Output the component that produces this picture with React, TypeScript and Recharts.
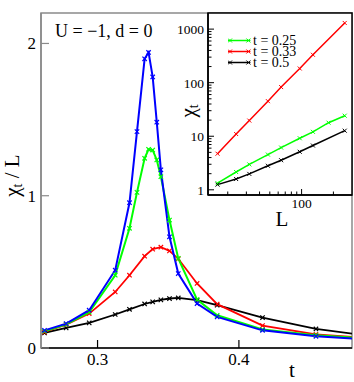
import React from "react";
import { LineChart, Line, XAxis, YAxis, ReferenceArea, Legend } from "recharts";

const FONT = "'Liberation Serif', 'Times New Roman', Times, serif";
const F = { fontFamily: FONT };

// ---- main panel data (t, chi_t / L) ----
const tDense = [0.2625, 0.2778, 0.2941, 0.3125, 0.3226, 0.3279, 0.3333, 0.3361, 0.339, 0.3419, 0.3448, 0.3509, 0.3571, 0.3704, 0.3846, 0.4167, 0.4545, 0.5];
const blueChi = [0.116, 0.16, 0.248, 0.511, 0.954, 1.421, 1.899, 1.941, 1.78, 1.483, 1.17, 0.73, 0.489, 0.292, 0.204, 0.116, 0.077, 0.052];
const greenChi = [0.11, 0.155, 0.235, 0.478, 0.786, 1.022, 1.246, 1.305, 1.3, 1.235, 1.125, 0.84, 0.588, 0.318, 0.215, 0.121, 0.084, 0.056];
const tSparse = [0.2625, 0.2778, 0.2941, 0.3125, 0.3226, 0.3333, 0.339, 0.3448, 0.3509, 0.3571, 0.3704, 0.3846, 0.4167, 0.4545, 0.5];
const redChi = [0.105, 0.154, 0.226, 0.368, 0.478, 0.603, 0.649, 0.662, 0.638, 0.586, 0.424, 0.288, 0.147, 0.09, 0.058];
const blackChi = [0.099, 0.132, 0.165, 0.22, 0.254, 0.289, 0.303, 0.316, 0.325, 0.329, 0.314, 0.281, 0.2, 0.125, 0.07];

const mainXTicks = [0.3, 0.4];
const mainYTicks = [0, 1, 2];

// ---- inset data (L, chi_t) ----
const Lsizes = [16, 24, 32, 48, 64, 96, 128, 256];
const LsizesGreen = [16, 24, 32, 48, 64, 96, 128, 180, 256];
const insetGreen = [1.33, 2.15, 2.98, 4.55, 6.15, 9.17, 12.1, 17.9, 24.2];
const insetRed = [4.72, 11.0, 19.6, 45.2, 82.8, 184, 332, 1303];
const insetBlack = [1.25, 1.59, 1.98, 2.81, 3.57, 5.13, 6.71, 12.7];
const insetNames = ["t = 0.25", "t = 0.33", "t = 0.5"];

const insetXTicks = [20, 30, 40, 50, 60, 70, 80, 90, 100, 200];
const insetXMajor = [100];
const insetYTicks = [1, 2, 3, 4, 5, 6, 7, 8, 9, 10, 20, 30, 40, 50, 60, 70, 80, 90, 100, 200, 300, 400, 500, 600, 700, 800, 900, 1000];
const insetYMajor = [1, 10, 100, 1000];

const toRows = (xs: number[], ys: number[], key: string) => xs.map((x, i) => ({ [key]: x, v: ys[i] }));

const blueRows = toRows(tDense, blueChi, "t");
const greenRows = toRows(tDense, greenChi, "t");
const redRows = toRows(tSparse, redChi, "t");
const blackRows = toRows(tSparse, blackChi, "t");

const gInset = toRows(LsizesGreen, insetGreen, "L");
const rInset = toRows(Lsizes, insetRed, "L");
const kInset = toRows(Lsizes, insetBlack, "L");

const makeCross = (s: number, w: number) => (props: any) => {
  const { cx, cy, stroke } = props;
  if (cx == null || cy == null) return <g />;
  return (
    <path
      d={`M${cx - s},${cy - s}L${cx + s},${cy + s}M${cx - s},${cy + s}L${cx + s},${cy - s}`}
      stroke={stroke}
      strokeWidth={w}
      fill="none"
    />
  );
};
const MainCross = makeCross(2.2, 1.2);
const InsetCross = makeCross(2, 1);

// main axis ticks (inward)
const MainXTick = (props: any) => {
  const { x, y, payload } = props;
  return (
    <g>
      <line x1={x} x2={x} y1={y} y2={y - 8} stroke="#000" strokeWidth={1.2} />
      <text x={x} y={y + 17} textAnchor="middle" fontSize={17} style={F} fill="#000">
        {payload.value}
      </text>
    </g>
  );
};
const MainYTick = (props: any) => {
  const { x, y, payload } = props;
  return (
    <g>
      <line x1={x} x2={x + 8} y1={y} y2={y} stroke="#8a8a8a" strokeWidth={1.2} />
      <text x={x - 5} y={y + 6} textAnchor="end" fontSize={17} style={F} fill="#000">
        {payload.value}
      </text>
    </g>
  );
};

// inset ticks
const InsetXTick = (side: "bottom" | "top") => (props: any) => {
  const { x, y, payload } = props;
  const major = insetXMajor.includes(payload.value);
  const len = major ? 6 : 3.5;
  const dir = side === "bottom" ? -1 : 1;
  return (
    <g>
      <line x1={x} x2={x} y1={y} y2={y + dir * len} stroke="#000" strokeWidth={1} />
      {side === "bottom" && major ? (
        <text x={x} y={y + 13} textAnchor="middle" fontSize={13.5} style={F} fill="#000">
          {payload.value}
        </text>
      ) : null}
    </g>
  );
};
const InsetYTick = (side: "left" | "right") => (props: any) => {
  const { x, y, payload } = props;
  const major = insetYMajor.includes(payload.value);
  const len = major ? 6 : 3.5;
  const dir = side === "left" ? 1 : -1;
  return (
    <g>
      <line x1={x} x2={x + dir * len} y1={y} y2={y} stroke="#000" strokeWidth={1} />
      {side === "left" && major ? (
        <text x={x - 4} y={y + 5} textAnchor="end" fontSize={13.5} style={F} fill="#000">
          {payload.value}
        </text>
      ) : null}
    </g>
  );
};

const MainYLabel = (props: any) => {
  const { x, y, height } = props.viewBox;
  const cx = x + 12;
  const cy = y + height / 2 - 5;
  return (
    <text transform={`rotate(-90 ${cx} ${cy})`} x={cx} y={cy} textAnchor="middle" dominantBaseline="central" fontSize={21} style={F} fill="#000">
      χ<tspan fontSize={14} dy={5}>t</tspan>
      <tspan dy={-5}> / L</tspan>
    </text>
  );
};
const MainXLabel = (props: any) => {
  const { x, y } = props.viewBox;
  return (
    <text x={x + 251} y={y + 22} textAnchor="middle" dominantBaseline="central" fontSize={21} style={F} fill="#000">
      t
    </text>
  );
};
const InsetYLabel = (props: any) => {
  const { x, y, height } = props.viewBox;
  const cx = x + 28;
  const cy = y + height / 2 + 7;
  return (
    <text transform={`rotate(-90 ${cx} ${cy})`} x={cx} y={cy} textAnchor="middle" dominantBaseline="central" fontSize={21} style={F} fill="#000">
      χ<tspan fontSize={14} dy={5}>t</tspan>
    </text>
  );
};
const InsetXLabel = (props: any) => {
  const { x, y, width } = props.viewBox;
  return (
    <text x={x + width / 2 + 2} y={y + 24} textAnchor="middle" dominantBaseline="central" fontSize={21} style={F} fill="#000">
      L
    </text>
  );
};

const InsetLegend = (props: any) => {
  const payload = props.payload || [];
  return (
    <div style={{ fontFamily: FONT, fontSize: 14 }}>
      {payload.map((p: any, i: number) => (
        <div key={i} style={{ display: "flex", alignItems: "center", height: 11, lineHeight: "11px" }}>
          <svg width={25} height={11} style={{ display: "block" }}>
            <line x1={0} x2={22.4} y1={5.5} y2={5.5} stroke={p.color} strokeWidth={1.5} />
            <path d="M0,3.5L4,7.5M0,7.5L4,3.5M18.4,3.5L22.4,7.5M18.4,7.5L22.4,3.5" stroke={p.color} strokeWidth={1} fill="none" />
          </svg>
          <span style={{ color: "#000", whiteSpace: "nowrap", fontFamily: FONT }}>{p.value}</span>
        </div>
      ))}
    </div>
  );
};

export default function App() {
  return (
    <div style={{ position: "absolute", left: 0, top: 0, width: 354, height: 382, background: "#fff", fontFamily: FONT }}>
      <div style={{ position: "absolute", left: 0, top: 0 }}>
        <LineChart width={354} height={382} margin={{ top: 13, right: 2, left: 0, bottom: 0 }}>
          <ReferenceArea x1={0.26} x2={0.48} y1={0} y2={2.2} fill="none" stroke="#8a8a8a" strokeWidth={1.5} fillOpacity={0} />
          <XAxis
            dataKey="t"
            type="number"
            domain={[0.26, 0.48]}
            allowDataOverflow
            ticks={mainXTicks}
            height={34}
            tickSize={0}
            tickMargin={0}
            tickLine={false}
            axisLine={{ stroke: "#000", strokeWidth: 1.5 }}
            tick={<MainXTick />}
            label={<MainXLabel />}
          />
          <YAxis
            type="number"
            domain={[0, 2.2]}
            allowDataOverflow
            ticks={mainYTicks}
            width={41}
            tickSize={0}
            tickMargin={0}
            tickLine={false}
            axisLine={{ stroke: "#8a8a8a", strokeWidth: 1.5 }}
            tick={<MainYTick />}
            label={<MainYLabel />}
          />
          <Line data={blackRows} dataKey="v" stroke="#000000" strokeWidth={1.8} dot={MainCross} isAnimationActive={false} />
          <Line data={redRows} dataKey="v" stroke="#ff0000" strokeWidth={1.8} dot={MainCross} isAnimationActive={false} />
          <Line data={greenRows} dataKey="v" stroke="#00ff00" strokeWidth={2} dot={MainCross} isAnimationActive={false} />
          <Line data={blueRows} dataKey="v" stroke="#0000ff" strokeWidth={2} dot={MainCross} isAnimationActive={false} />
        </LineChart>
      </div>
      <svg width={354} height={382} style={{ position: "absolute", left: 0, top: 0, pointerEvents: "none" }}>
        <text x={55} y={37} fontSize={18} style={F} fill="#000">U = −1, d = 0</text>
      </svg>
      <div style={{ position: "absolute", left: 160, top: 0 }}>
        <LineChart width={194} height={265} margin={{ top: 13, right: 2, left: 0, bottom: 0 }}>
          <ReferenceArea x1={13} x2={300} y1={0.8} y2={2000} fill="#fff" fillOpacity={1} stroke="#000" strokeWidth={1.5} />
          <XAxis
            dataKey="L"
            type="number"
            scale="log"
            domain={[13, 300]}
            allowDataOverflow
            ticks={insetXTicks}
            height={37}
            tickSize={0}
            tickMargin={0}
            tickLine={false}
            axisLine={{ stroke: "#000", strokeWidth: 1.5 }}
            tick={InsetXTick("bottom")}
            interval={0}
            label={<InsetXLabel />}
          />
          <XAxis
            xAxisId="top"
            orientation="top"
            dataKey="L"
            type="number"
            scale="log"
            domain={[13, 300]}
            allowDataOverflow
            ticks={insetXTicks}
            height={0}
            tickSize={0}
            tickMargin={0}
            tickLine={false}
            axisLine={false}
            interval={0}
            tick={InsetXTick("top")}
          />
          <YAxis
            type="number"
            scale="log"
            domain={[0.8, 2000]}
            allowDataOverflow
            ticks={insetYTicks}
            width={48}
            tickSize={0}
            tickMargin={0}
            tickLine={false}
            axisLine={{ stroke: "#000", strokeWidth: 1.5 }}
            interval={0}
            tick={InsetYTick("left")}
            label={<InsetYLabel />}
          />
          <YAxis
            yAxisId="right"
            orientation="right"
            type="number"
            scale="log"
            domain={[0.8, 2000]}
            allowDataOverflow
            ticks={insetYTicks}
            width={0}
            tickSize={0}
            tickMargin={0}
            tickLine={false}
            axisLine={false}
            interval={0}
            tick={InsetYTick("right")}
          />
          <Legend
            content={<InsetLegend />}
            wrapperStyle={{ position: "absolute", left: 68, top: 35, width: "auto", height: "auto" }}
          />
          <Line data={gInset} dataKey="v" name={insetNames[0]} stroke="#00ff00" strokeWidth={1.5} dot={InsetCross} isAnimationActive={false} />
          <Line data={rInset} dataKey="v" name={insetNames[1]} stroke="#ff0000" strokeWidth={1.5} dot={InsetCross} isAnimationActive={false} />
          <Line data={kInset} dataKey="v" name={insetNames[2]} stroke="#000000" strokeWidth={1.5} dot={InsetCross} isAnimationActive={false} />
        </LineChart>
      </div>
    </div>
  );
}
